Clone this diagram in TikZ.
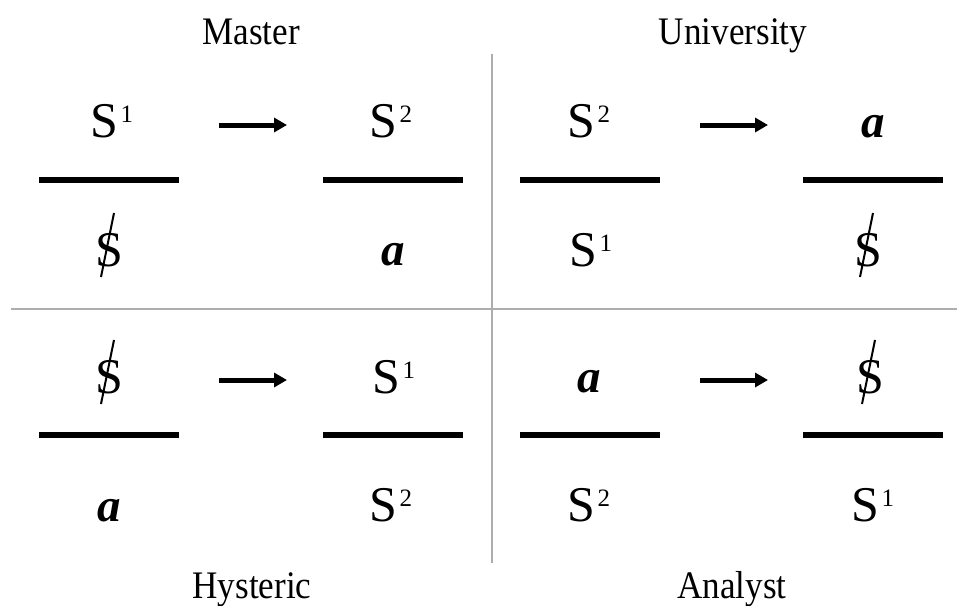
\documentclass[tikz,border=0pt]{standalone}
\usepackage{fontspec}
\setmainfont{Liberation Serif}
\usetikzlibrary{arrows.meta}
\newcommand{\bigsym}{\fontsize{50}{60}\selectfont}
\newcommand{\supnum}[1]{\kern2pt\raisebox{15pt}{\fontsize{25}{25}\selectfont #1}}
\newcommand{\SOne}{S\supnum{1}}
\newcommand{\STwo}{S\supnum{2}}
\newcommand{\aLet}{{\fontsize{47}{56}\selectfont\bfseries\itshape a}}
\tikzset{
  sym/.style={anchor=base, inner sep=0pt, font=\bigsym},
  title/.style={anchor=base, inner sep=0pt, font=\fontsize{39}{45}\selectfont, xscale=0.9},
  fracbar/.style={line width=6pt},
  divider/.style={line width=1.4pt, draw=black!32},
  slashline/.style={line width=2pt},
  arr/.style={line width=5pt, -{Triangle[length=13pt,width=14pt]}}
}
\begin{document}
\begin{tikzpicture}[x=1pt,y=-1pt]
\useasboundingbox (0,0) rectangle (957,605);
% dividers
\draw[divider] (492,54) -- (492,563);
\draw[divider] (11,309) -- (957,309);
% titles
\node[title] (tM) at (251,44) {Master};
\node[title] (tU) at (733,44) {University};
\node[title] (tH) at (252,598) {Hysteric};
\node[title] (tA) at (732,598) {Analyst};
% fraction bars
\foreach \cx in {109,393,590,873}{
  \draw[fracbar] (\cx-70,180) -- (\cx+70,180);
  \draw[fracbar] (\cx-70,435) -- (\cx+70,435);
}
% Master
\node[sym] (m1) at (112,137) {\SOne};
\node[sym] (m2) at (391,137) {\STwo};
\node[sym] (m3) at (109,266) {S};
\node[sym] (m4) at (393,265) {\aLet};
% University
\node[sym] (u1) at (589,137) {\STwo};
\node[sym] (u2) at (873,137) {\aLet};
\node[sym] (u3) at (591,266) {\SOne};
\node[sym] (u4) at (868,266) {S};
% Hysteric
\node[sym] (h1) at (109,393) {S};
\node[sym] (h2) at (394,393) {\SOne};
\node[sym] (h3) at (109,521) {\aLet};
\node[sym] (h4) at (391,521) {\STwo};
% Analyst
\node[sym] (a1) at (589,392) {\aLet};
\node[sym] (a2) at (870,393) {S};
\node[sym] (a3) at (589,521) {\STwo};
\node[sym] (a4) at (873,521) {\SOne};
% slashes through barred S
\foreach \n in {m3,u4,h1,a2}{
  \draw[slashline, shift={(\n.base)}] (-8,11) -- (5,-53);
}
% arrows
\coordinate (ms) at (219,125); \coordinate (me) at (287,125);
\coordinate (us) at (700,125); \coordinate (ue) at (768,125);
\coordinate (hs) at (219,380); \coordinate (he) at (287,380);
\coordinate (as) at (700,380); \coordinate (ae) at (768,380);
\draw[arr] (ms) -- (me);
\draw[arr] (us) -- (ue);
\draw[arr] (hs) -- (he);
\draw[arr] (as) -- (ae);
\end{tikzpicture}
\end{document}
